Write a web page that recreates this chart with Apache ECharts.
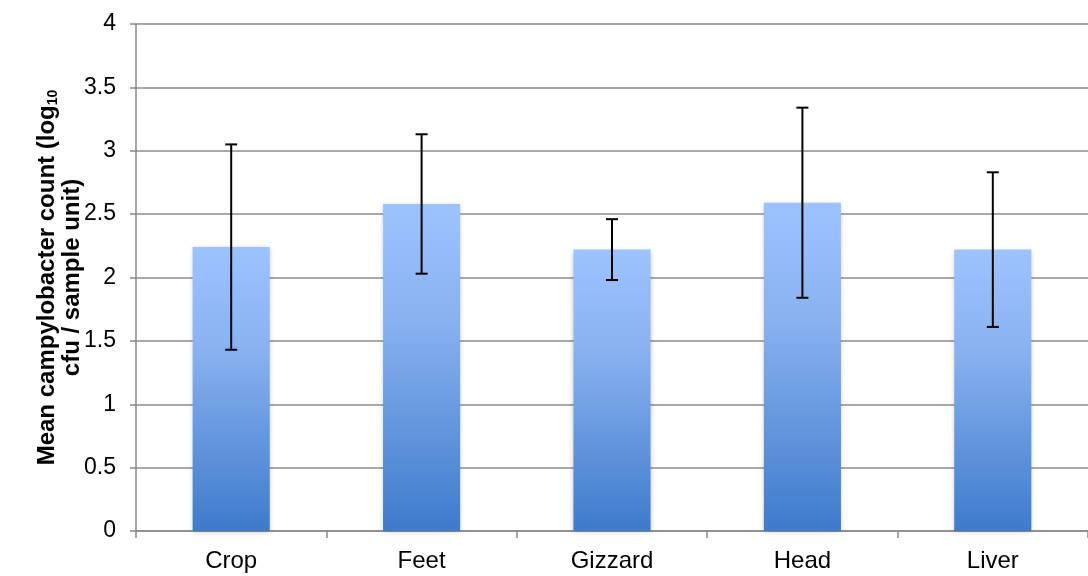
<!DOCTYPE html>
<html>
<head>
<meta charset="utf-8">
<script src="https://cdn.jsdelivr.net/npm/echarts@6/dist/echarts.min.js"></script>
<style>html,body{margin:0;padding:0;background:#fff;}#c{width:1088px;height:576px;}</style>
</head>
<body>
<div id="c"></div>
<script>
const categories = ['Crop', 'Feet', 'Gizzard', 'Head', 'Liver'];
const means = [2.24, 2.58, 2.22, 2.59, 2.22];
const errors = [0.81, 0.55, 0.24, 0.75, 0.61];
const yTicks = ['0', '0.5', '1', '1.5', '2', '2.5', '3', '3.5', '4'];

const chart = echarts.init(document.getElementById('c'), null, {renderer: 'canvas'});
const font = 'Liberation Sans, Arial, sans-serif';
const errData = means.map((m, i) => [i, m - errors[i], m + errors[i]]);

chart.setOption({
  animation: false,
  backgroundColor: '#ffffff',
  grid: {left: 136, top: 24, bottom: 45, width: 963, containLabel: false},
  xAxis: {
    type: 'category',
    data: categories,
    axisLine: {lineStyle: {color: '#898989', width: 1.5}},
    axisTick: {show: true, length: 7, lineStyle: {color: '#898989', width: 1.5}},
    axisLabel: {color: '#000', fontSize: 24, fontFamily: font, margin: 18}
  },
  yAxis: {
    type: 'value',
    min: 0, max: 4, interval: 0.5,
    name: 'Mean campylobacter count (log{sub|10}\ncfu / sample unit)',
    nameLocation: 'middle',
    nameGap: 51,
    nameMoveOverlap: false,
    nameRotate: 90,
    nameTextStyle: {
      color: '#000', fontSize: 24, fontWeight: 'bold', fontFamily: font, lineHeight: 25,
      rich: {sub: {fontSize: 14, fontWeight: 'bold', fontFamily: font, lineHeight: 25, verticalAlign: 'bottom', padding: [12, 0, 0, 0]}}
    },
    axisLine: {show: true, lineStyle: {color: '#898989', width: 1.5}},
    axisTick: {show: true, length: 6, lineStyle: {color: '#898989', width: 1.5}},
    splitLine: {show: true, lineStyle: {color: '#8c8c8c', width: 1.5}},
    axisLabel: {
      color: '#000', fontSize: 23, fontFamily: font, margin: 20,
      formatter: (v) => yTicks[Math.round(v / 0.5)]
    }
  },
  series: [
    {
      type: 'bar',
      data: means,
      barWidth: '40.5%',
      itemStyle: {
        color: new echarts.graphic.LinearGradient(0, 0, 0, 1, [
          {offset: 0, color: '#9dc3ff'},
          {offset: 0.35, color: '#8ab2f0'},
          {offset: 1, color: '#3e7bcb'}
        ]),
        shadowBlur: 5,
        shadowColor: 'rgba(0,0,0,0.22)',
        shadowOffsetY: 1
      },
      z: 2
    },
    {
      type: 'custom',
      data: errData,
      z: 5,
      renderItem: function (params, api) {
        const x = api.value(0);
        const lo = api.coord([x, api.value(1)]);
        const hi = api.coord([x, api.value(2)]);
        const cw = 6;
        const st = {stroke: '#000', lineWidth: 2};
        return {
          type: 'group',
          children: [
            {type: 'line', shape: {x1: lo[0], y1: lo[1], x2: hi[0], y2: hi[1]}, style: st},
            {type: 'line', shape: {x1: lo[0] - cw, y1: lo[1], x2: lo[0] + cw, y2: lo[1]}, style: st},
            {type: 'line', shape: {x1: hi[0] - cw, y1: hi[1], x2: hi[0] + cw, y2: hi[1]}, style: st}
          ]
        };
      }
    }
  ]
});
</script>
</body>
</html>
